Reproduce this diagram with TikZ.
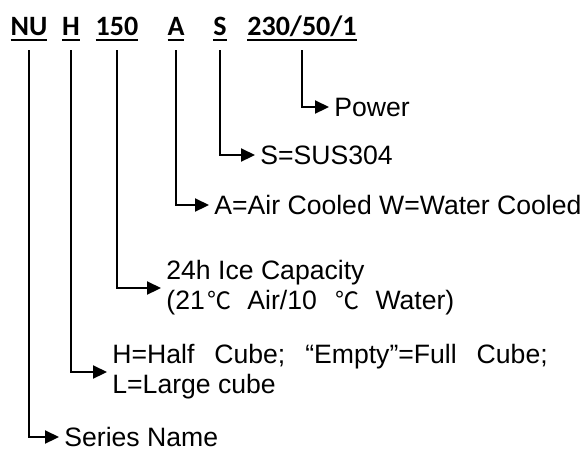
\documentclass[tikz,border=0pt]{standalone}
\usepackage{fontspec}
\setmainfont{Liberation Sans}
\newfontfamily\codefont{Carlito}
\newfontfamily\cjk{Noto Sans CJK SC}
\usetikzlibrary{arrows.meta}
\newcommand\codeul[1]{\setbox0\hbox{#1}\rlap{\rule[-3.15pt]{\wd0}{1.15pt}}\box0}
\newcommand\degc{{\cjk\fontsize{12}{12}\selectfont ℃}}

\begin{document}
\begin{tikzpicture}[x=0.5pt,y=-0.5pt,
  code/.style={anchor=base,inner sep=0pt,
    font=\codefont\bfseries\fontsize{14}{14}\selectfont},
  desc/.style={anchor=west,inner xsep=2.5pt,inner ysep=0pt,align=left,
    font=\fontsize{13.3}{15}\selectfont},
  link/.style={line width=1.1pt,-{Triangle[length=7pt,width=6.5pt]}}]
  \useasboundingbox (0,0) rectangle (585,452);

  % model code
  \node[code] (nu)   at (29,35)  {\codeul{NU}};
  \node[code] (cube) at (71,35)  {\codeul{H}};
  \node[code] (cap)  at (117,35) {\codeul{150}};
  \node[code] (cool) at (176,35) {\codeul{A}};
  \node[code] (mat)  at (220,35) {\codeul{S}};
  \node[code] (volt) at (302,35) {\codeul{230/50/1}};

  % meaning of each part
  \node[desc] (power)  at (329,107) {Power};
  \node[desc] (sus)    at (255,155) {S=SUS304};
  \node[desc] (air)    at (209,205) {A=Air Cooled W=Water Cooled};
  \node[desc] (ice)    at (161,288)
    {24h Ice Capacity\\(21\hspace{0.1em}\degc\hspace{0.6em}Air/10\hspace{0.7em}\degc\hspace{0.6em}Water)};
  \node[desc] (half)   at (107,372)
    {H=Half\hspace{0.75em}Cube;\hspace{0.75em}“Empty”=Full\hspace{0.75em}Cube;\\L=Large cube};
  \node[desc] (series) at (59,437)  {Series Name};

  \draw[link] ([yshift=-7.5pt]volt.base) |- (power.west);
  \draw[link] ([yshift=-7.5pt]mat.base)  |- (sus.west);
  \draw[link] ([yshift=-7.5pt]cool.base) |- (air.west);
  \draw[link] ([yshift=-7.5pt]cap.base)  |- (ice.west);
  \draw[link] ([yshift=-7.5pt]cube.base) |- (half.west);
  \draw[link] ([yshift=-7.5pt]nu.base)   |- (series.west);
\end{tikzpicture}
\end{document}
